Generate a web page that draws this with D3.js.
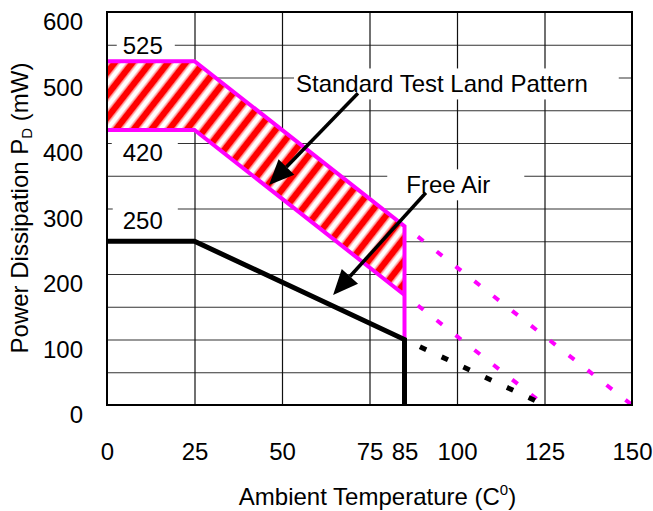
<!DOCTYPE html>
<html>
<head>
<meta charset="utf-8">
<script src="https://cdn.jsdelivr.net/npm/d3@7"></script>
<style>
body{margin:0;background:#fff;}
svg text{font-family:"Liberation Sans",Arial,sans-serif;fill:#000;}
</style>
</head>
<body>
<svg width="653" height="511"></svg>
<script>
// values
var tempBreaks=[0,25,85];
var standardMax=[525,525,273];
var standardMin=[420,420,168];
var freeAir=[250,250,100];
// temperature where each derating line reaches zero
var zeroTemps=[150,125,125];
var xTicks=[0,25,50,75,85,100,125,150];
var yTicks=[0,100,200,300,400,500,600];

var labels=[
	{text:"525",t:4.5,p:548,padL:6,padR:12},
	{text:"420",t:4.5,p:385,padL:11,padR:15},
	{text:"250",t:4.5,p:282,padL:10,padR:15},
	{text:"Standard Test Land Pattern",t:54,p:490,padL:2,padR:31},
	{text:"Free Air",t:85.5,p:336,padL:19,padR:34}
];
var arrows=[
	{from:[71.7,476],to:[46.3,336]},
	{from:[91.1,324],to:[64.6,168]}
];

var svg=d3.select("svg");
var padLeft=107,padRight=632,padTop=12,padBottom=405;
var fs=24;

var x=d3.scaleLinear().domain([0,150]).range([padLeft,padRight]);
var y=d3.scaleLinear().domain([0,600]).range([padBottom,padTop]);

// grid
svg.append("g")
.attr("transform","translate("+padLeft+",0)")
.call(d3.axisLeft(y).tickValues(d3.range(50,600,50)).tickSize(-(padRight-padLeft)).tickFormat(""))
.call(g=>g.select(".domain").remove())
.selectAll("line").attr("stroke","#333").attr("stroke-width",1.2);

svg.append("g")
.attr("transform","translate(0,"+padBottom+")")
.call(d3.axisBottom(x).tickValues([25,50,75,100,125]).tickSize(-(padBottom-padTop)).tickFormat(""))
.call(g=>g.select(".domain").remove())
.selectAll("line").attr("stroke","#111").attr("stroke-width",1.2);

// tick labels
svg.append("g")
.attr("transform","translate(0,"+padBottom+")")
.call(d3.axisBottom(x).tickValues(xTicks).tickSize(0).tickPadding(38))
.call(g=>g.select(".domain").remove())
.selectAll("text")
.attr("font-size",fs)
.style("font-family","'Liberation Sans',Arial,sans-serif");

svg.append("g")
.attr("transform","translate("+padLeft+",0)")
.call(d3.axisLeft(y).tickValues(yTicks).tickSize(0).tickPadding(24))
.call(g=>g.select(".domain").remove())
.selectAll("text")
.attr("font-size",fs)
.attr("y",10)
.style("font-family","'Liberation Sans',Arial,sans-serif");

// annotation labels on white boxes
labels.forEach(function(d){
	var g=svg.append("g");
	var r=g.append("rect").attr("fill","#fff");
	var t=g.append("text")
	.attr("x",x(d.t))
	.attr("y",y(d.p))
	.attr("dy","0.35em")
	.attr("font-size",fs)
	.text(d.text);
	var b=t.node().getBBox();
	r.attr("x",b.x-d.padL).attr("y",b.y-2)
	.attr("width",b.width+d.padL+d.padR).attr("height",b.height+4);
});

// hatch
var defs=svg.append("defs");
var pat=defs.append("pattern")
.attr("id","hatch")
.attr("patternUnits","userSpaceOnUse")
.attr("width",14).attr("height",14)
.attr("patternTransform","rotate(38)");
pat.append("rect").attr("width",14).attr("height",14).attr("fill","#fff");
pat.append("rect").attr("x",0).attr("width",6).attr("height",14).attr("fill","#ff0000");
pat.append("rect").attr("x",6).attr("width",1.5).attr("height",14).attr("fill","#ff8a8a");
pat.append("rect").attr("x",12.5).attr("width",1.5).attr("height",14).attr("fill","#ff8a8a");

var band=tempBreaks.map((t,i)=>[t,standardMax[i]])
	.concat(tempBreaks.map((t,i)=>[t,standardMin[i]]).reverse());

var line=d3.line().x(d=>x(d[0])).y(d=>y(d[1]));

svg.append("path")
.attr("d",line(band)+"Z")
.attr("fill","url(#hatch)");

// dotted extensions
var series=[standardMax,standardMin,freeAir];
var colors=["#ff00ff","#ff00ff","#000"];
series.forEach(function(s,i){
	var last=s.length-1;
	svg.append("path")
	.attr("d",line([[tempBreaks[last],s[last]],[zeroTemps[i],0]]))
	.attr("fill","none")
	.attr("stroke",colors[i])
	.attr("stroke-width",i==2?5:4)
	.attr("stroke-dasharray","7,17")
	.attr("stroke-dashoffset",-17);
});

// solid curves
function solid(vals,toZero,color,w)
{
	var pts=tempBreaks.map((t,i)=>[t,vals[i]]);
	if(toZero) pts.push([tempBreaks[tempBreaks.length-1],0]);
	svg.append("path")
	.attr("d",line(pts))
	.attr("fill","none")
	.attr("stroke",color)
	.attr("stroke-width",w)
	.attr("stroke-linejoin","miter");
}
solid(standardMax,true,"#ff00ff",4);
solid(standardMin,false,"#ff00ff",4);
solid(freeAir,true,"#000",5);

// arrows
arrows.forEach(function(a){
	var x1=x(a.from[0]),y1=y(a.from[1]),x2=x(a.to[0]),y2=y(a.to[1]);
	var ang=Math.atan2(y2-y1,x2-x1);
	var len=25,hw=11;
	var bx=x2-len*Math.cos(ang),by=y2-len*Math.sin(ang);
	svg.append("line")
	.attr("x1",x1).attr("y1",y1).attr("x2",bx).attr("y2",by)
	.attr("stroke","#000").attr("stroke-width",3.5);
	svg.append("polygon")
	.attr("points",[[x2,y2],
		[bx+hw*Math.sin(ang),by-hw*Math.cos(ang)],
		[bx-hw*Math.sin(ang),by+hw*Math.cos(ang)]].map(p=>p.join(",")).join(" "))
	.attr("fill","#000");
});

// frame
svg.append("rect")
.attr("x",padLeft).attr("y",padTop)
.attr("width",padRight-padLeft).attr("height",padBottom-padTop)
.attr("fill","none").attr("stroke","#000").attr("stroke-width",2);

// axis titles
var xt=svg.append("text")
.attr("x",(padLeft+padRight)/2+8)
.attr("y",505)
.attr("text-anchor","middle")
.attr("font-size",fs);
xt.append("tspan").text("Ambient Temperature (C");
xt.append("tspan").attr("font-size",15).attr("dy",-10).text("0");
xt.append("tspan").attr("dy",10).text(")");

var yt=svg.append("text")
.attr("transform","translate(28,"+208+") rotate(-90)")
.attr("text-anchor","middle")
.attr("font-size",fs);
yt.append("tspan").text("Power Dissipation P");
yt.append("tspan").attr("font-size",15).attr("dy",4).text("D");
yt.append("tspan").attr("dy",-4).text(" (mW)");
</script>
</body>
</html>
